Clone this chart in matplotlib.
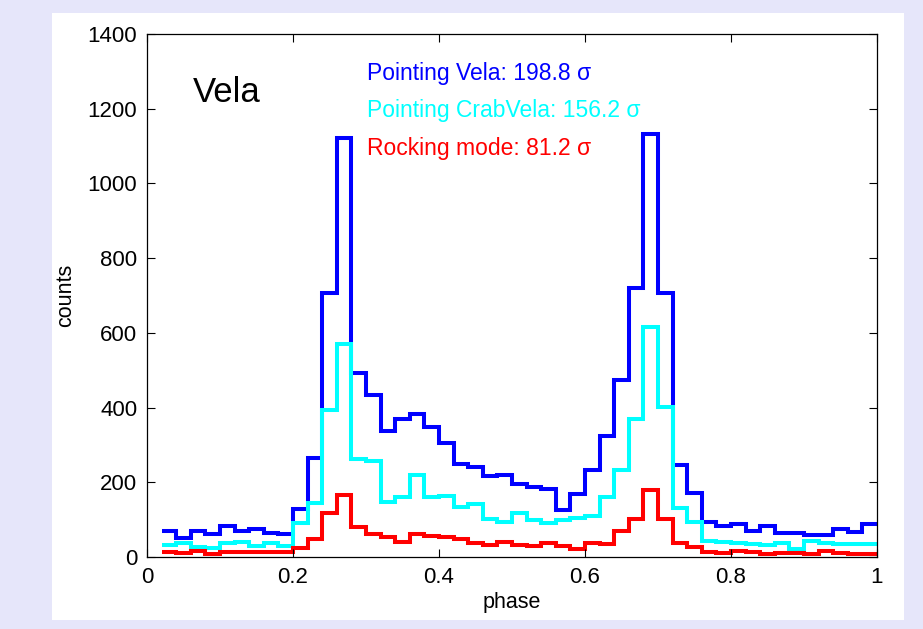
import numpy as np
import matplotlib
matplotlib.use("Agg")
import matplotlib.pyplot as plt
from matplotlib.patches import Rectangle

plt.rcParams['font.family'] = ['Liberation Sans', 'DejaVu Sans']

# phase bins 0.02 .. 1.00, width 0.02
edges = np.round(np.arange(0.02, 1.0001, 0.02), 2)

vela = [70, 50, 70, 61, 83, 70, 75, 63, 62, 128, 266, 708, 1121, 492, 433, 338,
        369, 383, 349, 306, 249, 240, 217, 219, 195, 187, 183, 127, 168, 233,
        324, 474, 720, 1132, 707, 246, 172, 94, 83, 87, 70, 84, 63, 63, 59, 59,
        74, 66, 88]
crabvela = [32, 37, 28, 24, 37, 40, 30, 38, 30, 90, 144, 393, 569, 261, 257, 146,
            161, 219, 161, 164, 133, 142, 101, 95, 117, 99, 92, 99, 105, 111,
            161, 233, 369, 616, 401, 130, 95, 43, 41, 37, 34, 32, 38, 21, 43, 37,
            34, 34, 34]
rocking = [14, 10, 16, 7, 14, 14, 13, 13, 13, 23, 47, 118, 166, 81, 62, 53,
           41, 62, 56, 54, 48, 37, 31, 40, 32, 29, 37, 29, 21, 38, 36, 70, 103,
           179, 103, 38, 26, 14, 10, 16, 13, 8, 12, 12, 7, 16, 10, 8, 8]

labels = ["Pointing Vela: 198.8 \u03c3", "Pointing CrabVela: 156.2 \u03c3",
          "Rocking mode: 81.2 \u03c3"]
colors = ["#0000ff", "#00ffff", "#ff0000"]

fig = plt.figure(figsize=(9.23, 6.29), dpi=100, facecolor="#e6e6fa")
# white panel behind the plot
fig.patches.append(Rectangle((52 / 923, 1 - 620 / 629), 852 / 923, 607 / 629,
                             transform=fig.transFigure, facecolor="white",
                             edgecolor="none", zorder=-10))
ax = fig.add_axes([147 / 923, 72 / 629, 730 / 923, 523 / 629])

for vals, c in zip([vela, crabvela, rocking], colors):
    ax.stairs(vals, edges, baseline=None, color=c, linewidth=2.9)

ax.set_xlim(0, 1)
ax.set_ylim(0, 1400)
ax.set_xticks([0, 0.2, 0.4, 0.6, 0.8, 1])
ax.set_xticklabels(["0", "0.2", "0.4", "0.6", "0.8", "1"])
ax.set_yticks(np.arange(0, 1401, 200))
ax.tick_params(direction="in", top=True, right=True, length=6, width=0.8,
               labelsize=16, pad=7)
for s in ax.spines.values():
    s.set_linewidth(0.9)

ax.set_xlabel("phase", fontsize=15.5, labelpad=3)
ax.set_ylabel("counts", fontsize=15.5, labelpad=8)

ax.text(0.063, 1219, "Vela", fontsize=25, color="black")
for i, (lab, c) in enumerate(zip(labels, colors)):
    ax.text(0.301, 1277 - 100 * i, lab, fontsize=16.5, color=c)

fig.savefig("out.png", dpi=100, facecolor=fig.get_facecolor())
